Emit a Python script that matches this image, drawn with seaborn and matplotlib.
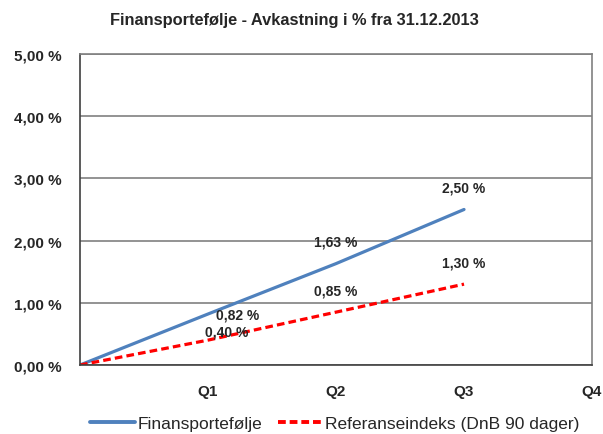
import pandas as pd
import matplotlib.pyplot as plt
import seaborn as sns

# data
kvartal = ["Start", "Q1", "Q2", "Q3"]
finans = [0.0, 0.82, 1.63, 2.50]
referanse = [0.0, 0.40, 0.85, 1.30]
x_labels = ["Q1", "Q2", "Q3", "Q4"]

navn_finans = "Finansportefølje"
navn_ref = "Referanseindeks (DnB 90 dager)"

df = pd.DataFrame({
    "pos": list(range(len(kvartal))) * 2,
    "verdi": finans + referanse,
    "serie": [navn_finans] * len(finans) + [navn_ref] * len(referanse),
})

sns.set_style("white")
plt.rcParams["font.family"] = ["Liberation Sans", "DejaVu Sans"]

fig = plt.figure(figsize=(6.03, 4.35), dpi=100)
ax = fig.add_axes([0.1327, 0.1586, 0.8491, 0.715])

sns.lineplot(data=df, x="pos", y="verdi", hue="serie", style="serie",
             palette={navn_finans: "#4F81BD", navn_ref: "#FF0000"},
             dashes={navn_finans: "", navn_ref: (2.4, 1.3)},
             linewidth=2.3, ax=ax, legend=False)

ax.set_xlim(0, 4)
ax.set_ylim(0, 5)
ax.set_yticks(range(6))
ax.set_yticklabels([f"{v},00 %" for v in range(6)], fontsize=11, fontweight="bold")
ax.set_xticks(range(1, 5))
ax.set_xticklabels(x_labels, fontsize=11, fontweight="bold")
ax.tick_params(axis="y", length=0, pad=13)
ax.tick_params(axis="x", length=0, pad=14)
ax.set_xlabel("")
ax.set_ylabel("")
ax.grid(axis="y", color="#808080", linewidth=1.2)
ax.grid(axis="x", visible=False)
for side in ["left", "bottom"]:
    ax.spines[side].set_color("#404040")
    ax.spines[side].set_linewidth(1.2)
for side in ["top", "right"]:
    ax.spines[side].set_color("#808080")
    ax.spines[side].set_linewidth(1.2)

# dataetiketter
def fmt(v):
    return f"{v:.2f} %".replace(".", ",")

for i, v in enumerate(finans[1:], start=1):
    off = (30, 0) if i == 1 else (0, 22)
    ax.annotate(fmt(v), (i, v), xytext=off, textcoords="offset pixels",
                ha="center", va="center", fontsize=10, fontweight="bold")
for i, v in enumerate(referanse[1:], start=1):
    off = (19, 9) if i == 1 else (0, 22)
    ax.annotate(fmt(v), (i, v), xytext=off, textcoords="offset pixels",
                ha="center", va="center", fontsize=10, fontweight="bold")

fig.suptitle("Finansportefølje - Avkastning i % fra 31.12.2013",
             x=0.489, y=0.97, fontsize=11.8, fontweight="bold")

handles = [plt.Line2D([], [], color="#4F81BD", linewidth=2.8),
           plt.Line2D([], [], color="#FF0000", linewidth=2.8, dashes=(2.0, 1.0))]
fig.legend(handles, [navn_finans, navn_ref], loc="center", ncol=2,
           bbox_to_anchor=(0.555, 0.025), frameon=False, fontsize=12.5,
           handlelength=2.6, handletextpad=0.15, columnspacing=0.9)

plt.savefig("out.png", dpi=100)
